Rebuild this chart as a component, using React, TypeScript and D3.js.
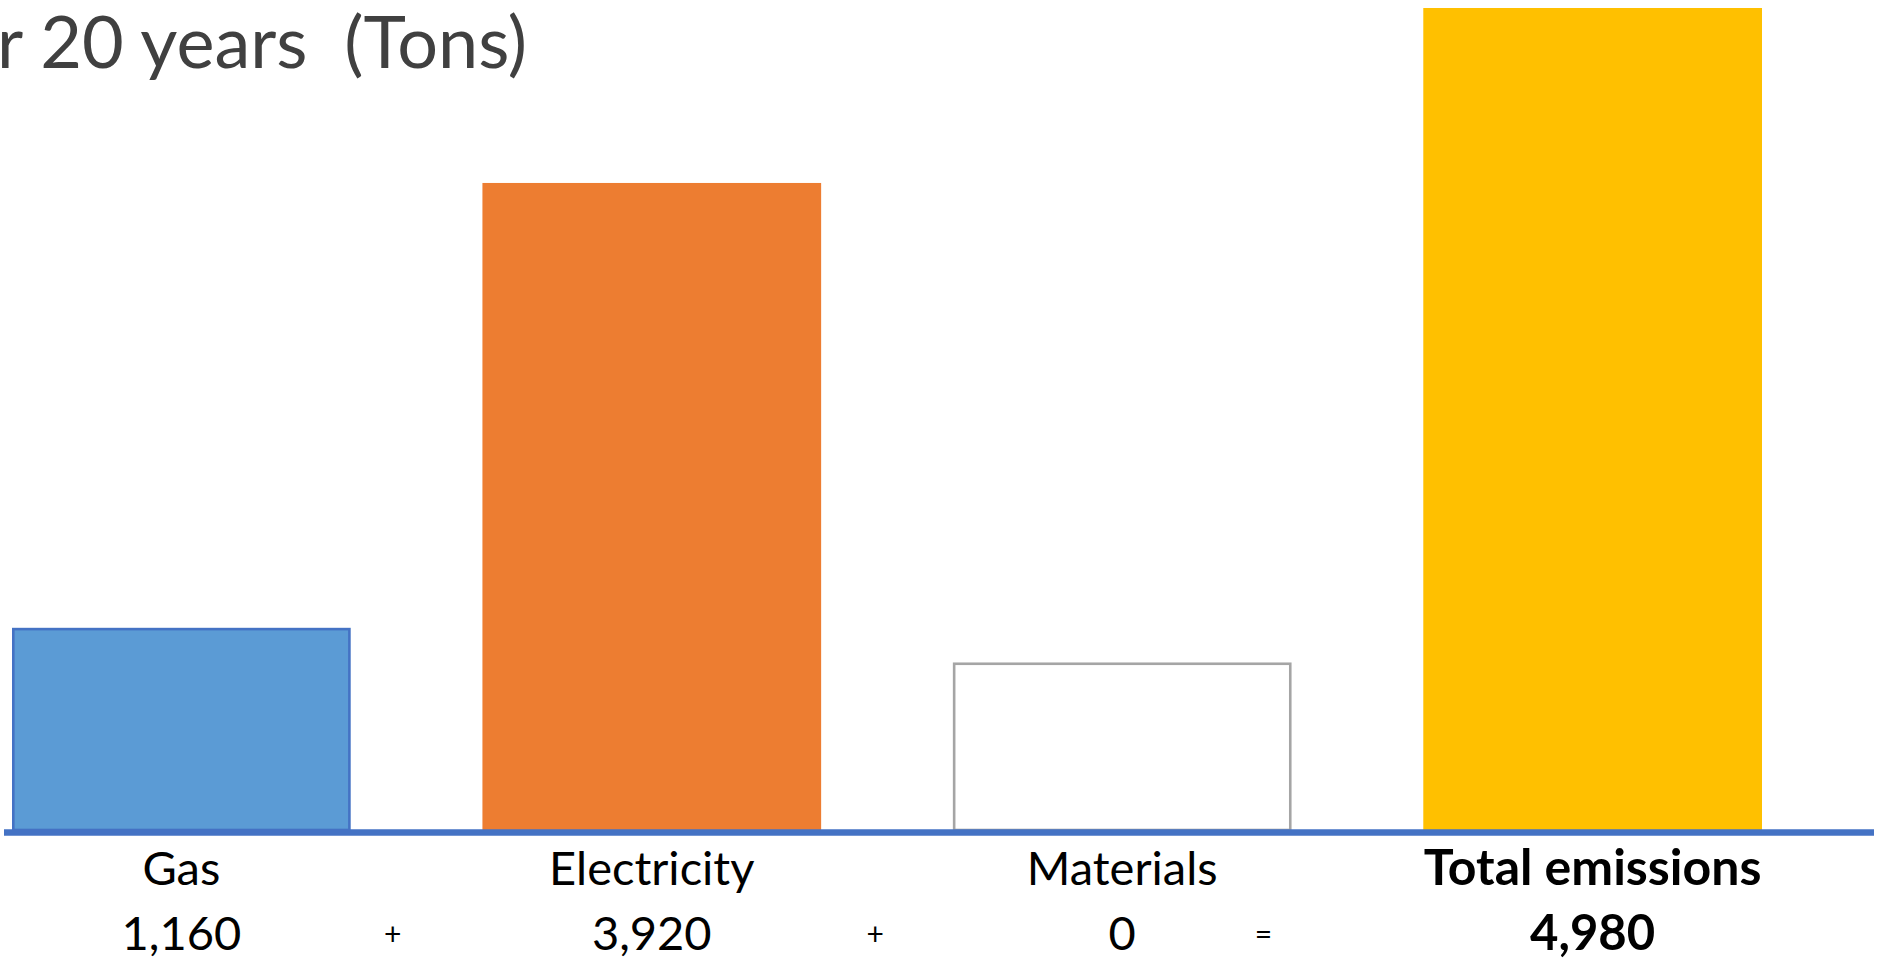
import React from "react";
import * as d3 from "d3";

// ---- data ----
const categories = ["Gas", "Electricity", "Materials", "Total emissions"];
// value labels shown under each bar (Tons)
const valueLabels = [1160, 3920, 0, 4980];
// bar heights as drawn in the picture (Tons, read against the Total bar)
const drawnHeights = [1225, 3920, 1015, 4980];
const operators = ["+", "+", "="];
const titleText = "r 20 years  (Tons)";

const W = 1880;
const H = 964;

const fills = ["#5B9BD5", "#ED7D31", "#FFFFFF", "#FFC000"];
const strokes = ["#4472C4", "none", "#A5A5A5", "none"];

export default function App() {
  const x = d3
    .scaleBand<string>()
    .domain(categories)
    .range([12, 1762])
    .paddingInner(0.28)
    .paddingOuter(0);
  const y = d3.scaleLinear().domain([0, 4980]).range([830, 8]);
  const bw = x.bandwidth();
  const fmt = d3.format(",");
  const opOffsets = [42, 54, -28];
  const font = "Lato, 'Open Sans', sans-serif";

  return (
    <svg
      width={W}
      height={H}
      style={{ position: "absolute", left: 0, top: 0, background: "#fff" }}
    >
      <text
        x={-3}
        y={68}
        fontFamily={font}
        fontWeight={400}
        fontSize={72}
        fill="#404040"
        style={{ whiteSpace: "pre" }}
      >
        {titleText}
      </text>
      {categories.map((c, i) => {
        const sw = strokes[i] === "none" ? 0 : 2.6;
        const top = y(drawnHeights[i]);
        return (
          <rect
            key={c}
            x={(x(c) as number) + sw / 2}
            y={top + sw / 2}
            width={bw - sw}
            height={y(0) - top - sw / 2}
            fill={fills[i]}
            stroke={strokes[i]}
            strokeWidth={sw}
          />
        );
      })}
      <line x1={4} x2={1874} y1={832.5} y2={832.5} stroke="#4472C4" strokeWidth={6.5} />
      {categories.map((c, i) => {
        const cx = (x(c) as number) + bw / 2;
        const bold = i === categories.length - 1;
        return (
          <g key={c} fontFamily={font} fill="#000" textAnchor="middle" fontWeight={bold ? 700 : 400}>
            <text x={cx} y={885} fontSize={bold ? 50 : 47}>
              {c}
            </text>
            <text x={cx} y={950} fontSize={bold ? 49 : 47}>
              {fmt(valueLabels[i])}
            </text>
          </g>
        );
      })}
      {operators.map((op, i) => (
        <text
          key={i}
          x={(x(categories[i]) as number) + bw + opOffsets[i]}
          y={945}
          fontFamily={font}
          fontSize={30}
          textAnchor="middle"
          fill="#000"
        >
          {op}
        </text>
      ))}
    </svg>
  );
}
